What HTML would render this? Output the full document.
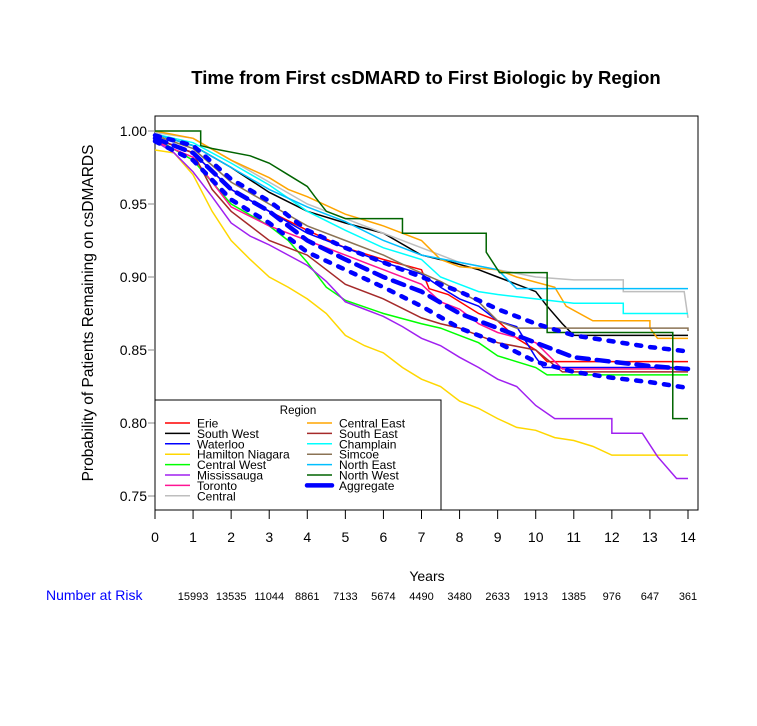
<!DOCTYPE html>
<html><head><meta charset="utf-8"><style>
body{margin:0;background:#fff;}
svg text{font-family:"Liberation Sans",sans-serif;}
</style></head><body>
<svg id="c" width="757" height="721" xmlns="http://www.w3.org/2000/svg">
<rect width="757" height="721" fill="#fff"/>
<text x="426" y="84" text-anchor="middle" font-size="18.5" font-weight="bold">Time from First csDMARD to First Biologic by Region</text>
<text transform="translate(93,313) rotate(-90)" text-anchor="middle" font-size="15.5">Probability of Patients Remaining on csDMARDS</text>
<text x="427" y="581" text-anchor="middle" font-size="14">Years</text>
<text x="46" y="600" font-size="14" fill="#0000ff">Number at Risk</text>
<g id="plot"></g>
</svg>
<script>
const regionNames=["Erie","South West","Waterloo","Hamilton Niagara","Central West","Mississauga","Toronto","Central","Central East","South East","Champlain","Simcoe","North East","North West"];
const regionColors=["#ff0000","#000000","#0000ff","#ffd700","#00ff00","#a020f0","#ff1493","#bebebe","#ffa500","#a52a2a","#00ffff","#8b7355","#00bfff","#006400"];
const erie=[[0,.995],[1,.985],[2,.96],[3,.945],[4,.932],[5,.92],[6,.912],[7,.905],[7.2,.892],[7.7,.888],[8.5,.875],[9,.87],[9.5,.858],[10,.85],[10.3,.842],[14,.842]];
const southWest=[[0,.998],[1,.99],[2,.975],[3,.958],[4,.945],[5,.937],[6,.93],[7,.915],[7.8,.91],[8.5,.905],[9,.9],[9.5,.895],[10,.89],[10.3,.88],[10.7,.868],[11,.86],[14,.86]];
const waterloo=[[0,.995],[1,.985],[2,.96],[3,.945],[4,.93],[5,.92],[6,.91],[7,.902],[7.5,.893],[8,.885],[8.5,.88],[9,.87],[9.5,.866],[10,.845],[10.2,.838],[14,.838]];
const hamilton=[[0,.987],[.5,.985],[1,.97],[1.5,.945],[2,.925],[2.5,.912],[3,.9],[3.5,.893],[4,.885],[4.5,.875],[5,.86],[5.5,.853],[6,.848],[6.5,.838],[7,.83],[7.5,.825],[8,.815],[8.5,.81],[9,.803],[9.5,.797],[10,.795],[10.5,.79],[11,.788],[11.5,.784],[12,.778],[14,.778]];
const centralWest=[[0,.995],[1,.98],[2,.95],[3,.935],[3.5,.925],[4,.91],[4.5,.893],[5,.884],[6,.875],[7,.868],[7.5,.865],[8,.86],[8.5,.855],[9,.846],[9.5,.842],[10,.838],[10.3,.833],[14,.833]];
const mississauga=[[0,.993],[.5,.985],[1,.972],[1.5,.955],[2,.937],[2.5,.928],[3,.922],[3.5,.915],[4,.908],[4.5,.897],[5,.883],[5.5,.878],[6,.873],[6.5,.866],[7,.858],[7.5,.853],[8,.845],[8.5,.838],[9,.83],[9.5,.825],[10,.812],[10.5,.803],[12,.793],[12.8,.793],[13.2,.777],[13.7,.762],[14,.762]];
const toronto=[[0,.993],[1,.982],[1.5,.965],[2,.948],[3,.935],[4,.925],[5,.915],[6,.905],[7,.895],[7.5,.883],[8,.878],[8.5,.868],[9,.862],[10,.855],[10.7,.837],[14,.837]];
const central=[[0,.999],[1,.995],[2,.98],[3,.965],[4,.95],[5,.94],[6,.93],[7,.92],[8,.91],[9,.905],[10,.9],[11,.898],[12.3,.89],[13.9,.89],[14,.872]];
const centralEast=[[0,1],[1,.995],[2,.98],[3,.968],[3.5,.96],[4,.955],[5,.943],[6,.935],[7,.925],[7.5,.912],[8,.907],[9,.905],[9.5,.9],[10.5,.893],[10.8,.88],[11.5,.87],[13,.865],[13.2,.858],[14,.858]];
const southEast=[[0,.995],[1,.985],[1.5,.96],[2,.945],[2.5,.935],[3,.925],[4,.915],[4.5,.905],[5,.895],[6,.885],[7,.872],[7.5,.868],[8,.865],[8.5,.86],[9,.855],[10,.85],[10.7,.835],[14,.835]];
const champlain=[[0,.998],[1,.992],[2,.978],[3,.963],[4,.945],[5,.932],[6,.92],[7,.912],[7.5,.9],[8,.895],[8.5,.89],[9,.888],[10,.885],[11,.882],[12.3,.875],[14,.875]];
const simcoe=[[0,.997],[1,.988],[2,.965],[3,.95],[4,.935],[5,.925],[6,.915],[6.8,.905],[7.5,.897],[8,.89],[8.5,.883],[9,.87],[9.5,.865],[14,.863]];
const northEast=[[0,.998],[1,.99],[2,.975],[3,.96],[4,.948],[5,.938],[6,.925],[7,.915],[8,.91],[9,.905],[9.5,.892],[14,.892]];
const northWest=[[0,1],[1.2,.99],[1.5,.988],[2.5,.983],[3,.978],[3.5,.97],[4,.962],[4.2,.955],[4.5,.945],[5,.94],[6.5,.93],[8.7,.917],[9.05,.903],[10.3,.862],[13.6,.803],[14,.803]];
const aggMid=[[0,.995],[1,.985],[2,.96],[3,.945],[4,.925],[5,.912],[6,.9],[7,.89],[8,.875],[9,.865],[10,.855],[11,.845],[12,.842],[13,.839],[14,.837]];
const aggUpper=[[0,.997],[1,.99],[2,.967],[3,.952],[4,.932],[5,.92],[6,.91],[7,.9],[8,.89],[9,.878],[10,.868],[11,.86],[12,.856],[13,.852],[14,.849]];
const aggLower=[[0,.993],[1,.98],[2,.953],[3,.937],[4,.917],[5,.905],[6,.893],[7,.88],[8,.865],[9,.855],[10,.842],[11,.835],[12,.831],[13,.828],[14,.824]];
const atRisk=[15993,13535,11044,8861,7133,5674,4490,3480,2633,1913,1385,976,647,361];
const xTicks=[0,1,2,3,4,5,6,7,8,9,10,11,12,13,14];
const yTicks=[0.75,0.80,0.85,0.90,0.95,1.00];
const yTickLabels=["0.75","0.80","0.85","0.90","0.95","1.00"];
const series=[erie,southWest,waterloo,hamilton,centralWest,mississauga,toronto,central,centralEast,southEast,champlain,simcoe,northEast,northWest];

const X=t=>155+t*(688-155)/14;
const Y=s=>131+(1-s)*(496-131)/0.25;
const NS="http://www.w3.org/2000/svg";
const g=document.getElementById('plot');
function mk(tag,attrs,parent){const e=document.createElementNS(NS,tag);for(const k in attrs)e.setAttribute(k,attrs[k]);(parent||g).appendChild(e);return e;}
// smooth-ish path: dense parts drawn as lines, long gaps as steps
function curvePath(d,allLines){let p="M"+X(d[0][0])+","+Y(d[0][1]);for(let i=1;i<d.length;i++){const dt=d[i][0]-d[i-1][0];if(allLines||dt<=1.01){p+=" L"+X(d[i][0])+","+Y(d[i][1]);}else{p+=" H"+X(d[i][0])+" V"+Y(d[i][1]);}}return p;}

const box=mk('rect',{x:155,y:116,width:543,height:394,fill:'none',stroke:'#000','stroke-width':1});


yTicks.forEach((v,i)=>{
 const tk=mk('line',{x1:148,x2:155,y1:Y(v),y2:Y(v),stroke:'#888'});
 
 
 const t=mk('text',{x:147,y:Y(v)+5,'text-anchor':'end','font-size':14});
 t.textContent=yTickLabels[i];
 
 
});
xTicks.forEach(v=>{
 const tk=mk('line',{x1:X(v),x2:X(v),y1:510,y2:519,stroke:'#000'});
 
 
 const t=mk('text',{x:X(v),y:542,'text-anchor':'middle','font-size':14});
 t.textContent=v;
 
 
});
atRisk.forEach((v,i)=>{
 const t=mk('text',{x:X(i+1),y:600,'text-anchor':'middle','font-size':11});
 t.textContent=v;
 
 
});
const cg=mk('g',{});


series.forEach((d,i)=>{
 const p=mk('path',{d:curvePath(d,false),fill:'none',stroke:regionColors[i],'stroke-width':1.5},cg);
 
 
});
[aggUpper,aggMid,aggLower].forEach((d,i)=>{
 const p=mk('path',{d:curvePath(d,true),fill:'none',stroke:'#0000ff','stroke-width':4.5,'stroke-dasharray':i==1?'12,8':'5,9','stroke-linecap':'round'},cg);
 
 
});
const lg=mk('g',{});


mk('rect',{x:155,y:400,width:286,height:110,fill:'#fff',stroke:'#000'},lg);
const lt=mk('text',{x:298,y:414,'text-anchor':'middle','font-size':11.5},lg);
lt.textContent='Region';


const names=regionNames.concat(['Aggregate']);
const cols=regionColors.concat(['#0000ff']);
names.forEach((n,i)=>{
 const col=i<8?0:1, row=i<8?i:i-8;
 const lx=col?307:165, ty=423+row*10.4;
 const e=mk('g',{},lg);
 
 
 mk('line',{x1:lx,x2:lx+25,y1:ty,y2:ty,stroke:cols[i],'stroke-width':n=='Aggregate'?4.5:1.5,'stroke-linecap':n=='Aggregate'?'round':'butt'},e);
 const t=mk('text',{x:lx+32,y:ty+4.5,'font-size':12},e);
 t.textContent=n;
});
</script>
</body></html>
